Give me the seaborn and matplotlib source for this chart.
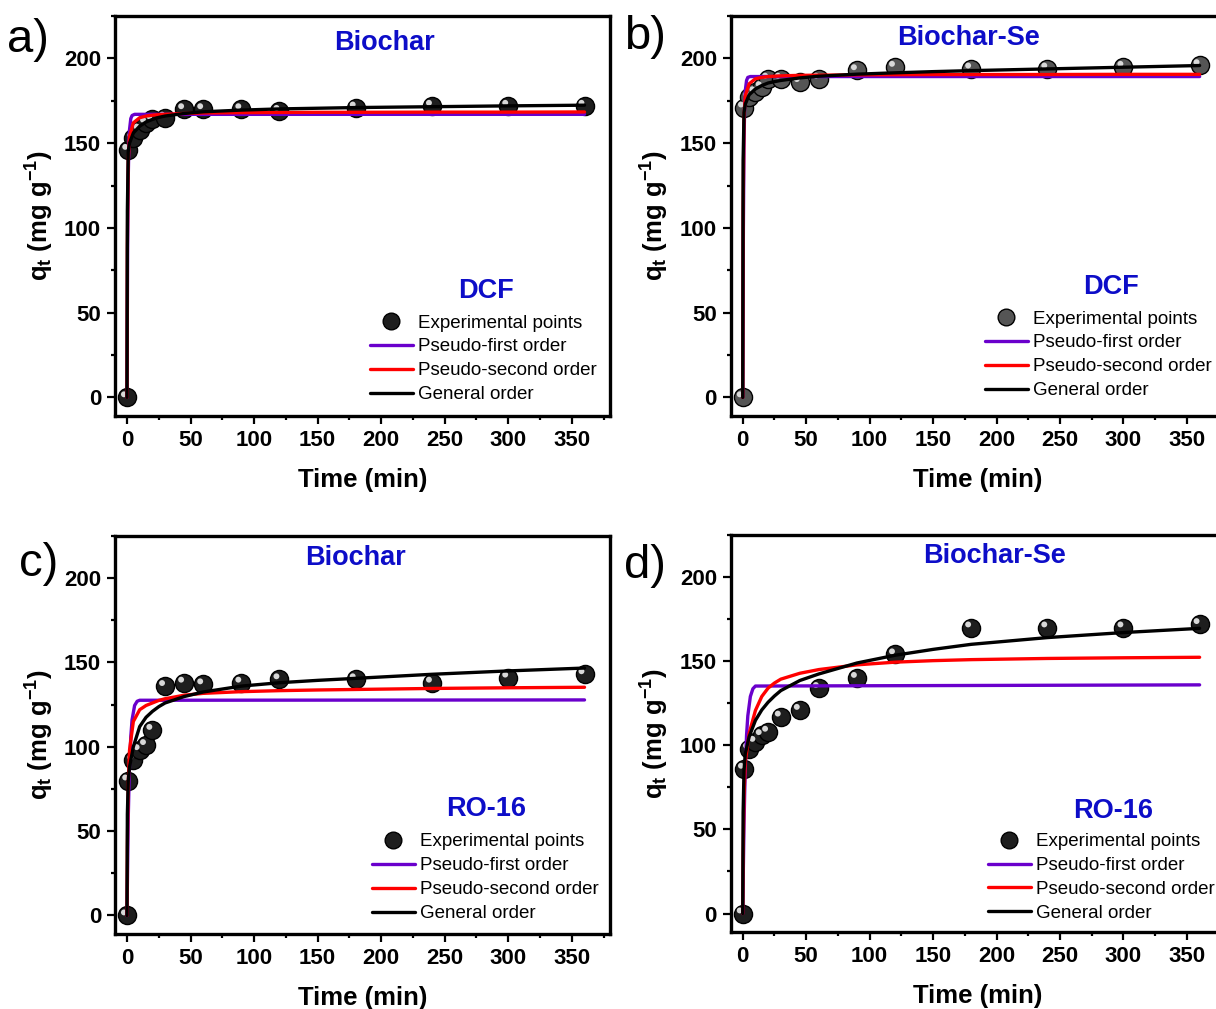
import numpy as np
import pandas as pd
import seaborn as sns
import matplotlib
matplotlib.use("Agg")
import matplotlib.pyplot as plt
from matplotlib.lines import Line2D
from matplotlib.ticker import MultipleLocator
from matplotlib.transforms import ScaledTranslation

# Experimental points
t_exp = [0, 1, 5, 10, 15, 20, 30, 45, 60, 90, 120, 180, 240, 300, 360]
q_dcf_bio = [0, 146, 153, 158, 162, 164, 165, 170, 170, 170, 169, 171, 172, 172, 172]
q_dcf_se = [0, 171, 177, 180, 183, 188, 188, 186, 188, 193, 195, 194, 194, 195, 196]
q_ro_bio = [0, 80, 92, 98, 101, 110, 136, 138, 137, 138, 140, 140, 138, 141, 143]
q_ro_se = [0, 86, 98, 102, 106, 108, 117, 121, 134, 140, 154, 170, 170, 170, 172]

# Fitted curves
t_pfo = [0, 0.5, 1, 1.5, 2, 3, 4, 6, 8, 10, 360]
t_fit = [0, 0.3, 1, 2, 5, 10, 15, 20, 25, 30, 45, 60, 90, 120, 150, 180, 240, 300, 360]

pfo_dcf_bio = [0, 88, 130, 150, 158, 164.5, 166.3, 167, 167, 167, 167]
pso_dcf_bio = [0, 90, 140, 154, 162, 165, 166, 166.5, 166.8, 167, 167.5, 167.8, 168, 168.1, 168.2,
               168.2, 168.3, 168.3, 168.4]
gen_dcf_bio = [0, 110, 145, 150, 156, 160, 162.5, 164, 165.2, 166, 167.5, 168.5, 169.5, 170.2, 170.6,
               171, 171.5, 172, 172.4]

pfo_dcf_se = [0, 100, 150, 172, 181, 187, 188.8, 189.3, 189.3, 189.3, 189.3]
pso_dcf_se = [0, 110, 165, 178, 185, 188, 188.8, 189.3, 189.5, 189.7, 190, 190.1, 190.3, 190.4, 190.5,
              190.5, 190.5, 190.6, 190.6]
gen_dcf_se = [0, 140, 168, 173, 178.5, 182, 184, 185.5, 186.3, 187, 188.5, 189.5, 190.7, 191.5, 192.2,
              192.8, 193.8, 194.8, 195.8]

pfo_ro_bio = [0, 30, 58, 75, 89, 106, 116, 124.5, 127, 127.6, 127.8]
pso_ro_bio = [0, 40, 78, 98, 115, 122, 124.5, 126, 127.5, 128.5, 130.6, 131.7, 132.7, 133.3, 133.7,
              134, 134.6, 135, 135.3]
gen_ro_bio = [0, 60, 80, 88, 100, 112, 117.5, 121, 123.8, 126, 129.8, 132.5, 136, 138, 139.4,
              140.6, 143, 145, 146.7]

pfo_ro_se = [0, 28, 53, 71, 86, 106, 117.5, 129, 133.6, 135.2, 135.9]
pso_ro_se = [0, 35, 70, 90, 107, 120.7, 129, 134, 137, 139.3, 142.8, 145, 147.8, 149.4, 150.3,
             150.9, 151.6, 152, 152.3]
gen_ro_se = [0, 60, 85, 95, 105, 114.8, 121, 125.6, 129.3, 132.5, 138.5, 142.4, 148.9, 153.5, 157,
             160, 164, 167, 169.5]

sns.set_theme(style="ticks")
plt.rcParams["font.family"] = ["Liberation Sans", "DejaVu Sans"]
plt.rcParams["mathtext.fontset"] = "custom"
plt.rcParams["mathtext.rm"] = "Liberation Sans:bold"
plt.rcParams["mathtext.bf"] = "Liberation Sans:bold"
plt.rcParams["mathtext.it"] = "Liberation Sans:bold"
plt.rcParams["text.color"] = "black"
plt.rcParams["axes.labelcolor"] = "black"
plt.rcParams["xtick.color"] = "black"
plt.rcParams["ytick.color"] = "black"

PURPLE = "#6a00cc"
RED = "#ff0000"
BLUE = "#0d0dc8"

fig = plt.figure(figsize=(12.16, 10.09), dpi=100)

panels = [
    # rect, label, label pos, material, mat pos, pollutant, pol pos, legend pos, points, curves, marker colour
    ([0.0946, 0.5877, 0.407, 0.3964], "a)", (0.006, 0.960), "Biochar", (0.545, 0.932), "DCF", (0.75, 0.312),
     (0.515, 0.254), q_dcf_bio, (pfo_dcf_bio, pso_dcf_bio, gen_dcf_bio), "#1e1e1e"),
    ([0.601, 0.5877, 0.4064, 0.3964], "b)", (0.513, 0.963), "Biochar-Se", (0.48, 0.945), "DCF", (0.769, 0.322),
     (0.514, 0.264), q_dcf_se, (pfo_dcf_se, pso_dcf_se, gen_dcf_se), "#555555"),
    ([0.0946, 0.0743, 0.407, 0.3945], "c)", (0.016, 0.441), "Biochar", (0.485, 0.945), "RO-16", (0.749, 0.314),
     (0.519, 0.253), q_ro_bio, (pfo_ro_bio, pso_ro_bio, gen_ro_bio), "#1e1e1e"),
    ([0.601, 0.0763, 0.4064, 0.3935], "d)", (0.513, 0.439), "Biochar-Se", (0.534, 0.947), "RO-16", (0.773, 0.305),
     (0.52, 0.249), q_ro_se, (pfo_ro_se, pso_ro_se, gen_ro_se), "#1e1e1e"),
]

for rect, lab, labpos, mat, matpos, pol, polpos, legpos, q_pts, curves, mcol in panels:
    ax = fig.add_axes(rect)
    pfo, pso, gen = curves

    pts = pd.DataFrame({"t": t_exp, "q": q_pts})
    sns.scatterplot(data=pts, x="t", y="q", ax=ax, s=170, color=mcol,
                    edgecolor="black", linewidth=1.0, zorder=3, legend=False)
    # little highlight on each sphere
    hl = ax.transData + ScaledTranslation(-2.2 / 72, 2.2 / 72, fig.dpi_scale_trans)
    ax.scatter(pts["t"], pts["q"], s=18, color="#d8d8d8", edgecolor="none",
               zorder=4, transform=hl)

    sns.lineplot(x=t_pfo, y=pfo, ax=ax, color=PURPLE, lw=2.4, sort=False,
                 estimator=None, zorder=5)
    sns.lineplot(x=t_fit, y=pso, ax=ax, color=RED, lw=2.4, sort=False,
                 estimator=None, zorder=6)
    sns.lineplot(x=t_fit, y=gen, ax=ax, color="black", lw=2.4, sort=False,
                 estimator=None, zorder=7)

    ax.set_xlim(-9.4, 380)
    ax.set_ylim(-11, 225)
    ax.xaxis.set_major_locator(MultipleLocator(50))
    ax.xaxis.set_minor_locator(MultipleLocator(25))
    ax.yaxis.set_major_locator(MultipleLocator(50))
    ax.yaxis.set_minor_locator(MultipleLocator(25))
    ax.tick_params(which="major", direction="out", length=6, width=1.6,
                   labelsize=16, pad=4, color="black", labelcolor="black")
    ax.tick_params(which="minor", direction="out", length=3, width=1.6, color="black")
    for tl in ax.get_xticklabels() + ax.get_yticklabels():
        tl.set_fontweight("bold")
    for sp in ax.spines.values():
        sp.set_visible(True)
        sp.set_linewidth(2.4)
        sp.set_color("black")

    ax.set_xlabel("Time (min)", fontsize=18.5, fontweight="bold", labelpad=12, color="black")
    ax.set_ylabel(r"q$_{t}$ (mg g$^{-1}$)", fontsize=18.5, fontweight="bold", labelpad=6, color="black")

    ax.text(matpos[0], matpos[1], mat, transform=ax.transAxes, ha="center",
            va="center", fontsize=19.5, fontweight="bold", color=BLUE)
    ax.text(polpos[0], polpos[1], pol, transform=ax.transAxes, ha="center",
            va="center", fontsize=19.5, fontweight="bold", color=BLUE)
    fig.text(labpos[0], labpos[1], lab, fontsize=34, va="center", ha="left", color="black")

    handles = [Line2D([], [], ls="none", marker="o", ms=12, mfc=mcol, mec="black"),
               Line2D([], [], color=PURPLE, lw=2.4),
               Line2D([], [], color=RED, lw=2.4),
               Line2D([], [], color="black", lw=2.4)]
    labels = ["Experimental points", "Pseudo-first order",
              "Pseudo-second order", "General order"]
    leg = ax.legend(handles, labels, loc="upper left", bbox_to_anchor=legpos,
                    frameon=False, fontsize=13.5, handlelength=2.3,
                    handletextpad=0.25, labelspacing=0.36, borderpad=0,
                    borderaxespad=0)
    for txt in leg.get_texts():
        txt.set_color("black")

fig.savefig("out.png", dpi=100)
